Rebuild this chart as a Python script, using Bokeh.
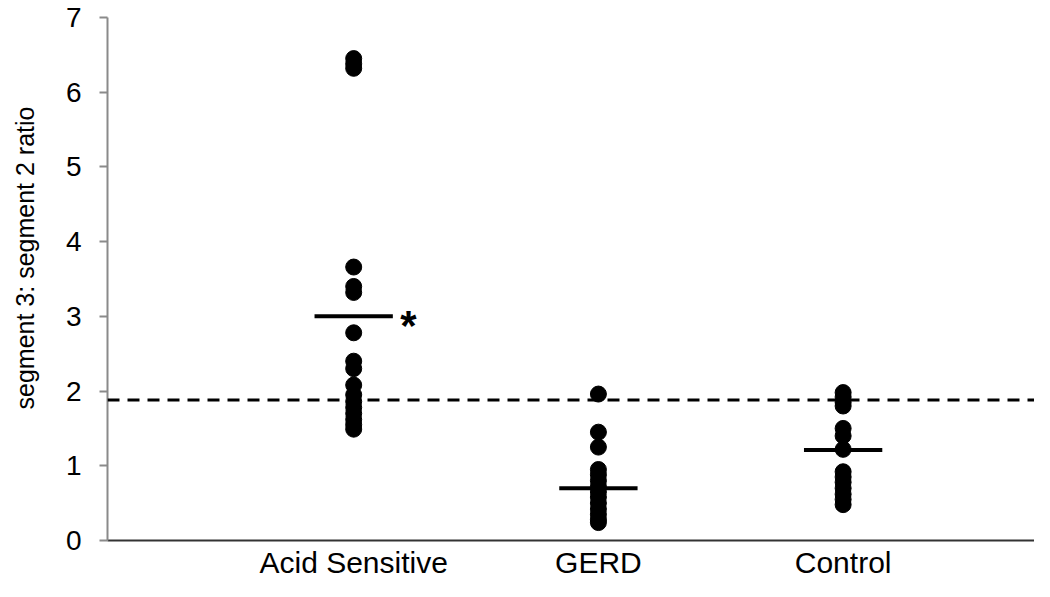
from bokeh.plotting import figure
from bokeh.models import ColumnDataSource, FixedTicker, Span, Title
from bokeh.core.properties import value
from bokeh.embed import file_html
from bokeh.resources import INLINE

# ---- data ----
categories = ["Acid Sensitive", "GERD", "Control"]
acid_sensitive = [6.45, 6.38, 6.32, 3.66, 3.40, 3.32, 2.78, 2.40, 2.30, 2.08,
                  1.95, 1.86, 1.78, 1.70, 1.62, 1.55, 1.49]
gerd = [1.96, 1.45, 1.25, 0.95, 0.88, 0.80, 0.72, 0.65, 0.58, 0.50, 0.42,
        0.35, 0.28, 0.24]
control = [1.98, 1.92, 1.85, 1.80, 1.50, 1.40, 1.22, 0.92, 0.85, 0.78, 0.70,
           0.62, 0.55, 0.48]
means = [3.00, 0.70, 1.21]
threshold = 1.88
y_ticks = [0, 1, 2, 3, 4, 5, 6, 7]
y_label = "segment 3: segment 2 ratio"

series = [acid_sensitive, gerd, control]
xs, ys = [], []
for i, vals in enumerate(series):
    xs += [i + 1] * len(vals)
    ys += vals
src = ColumnDataSource(dict(x=xs, y=ys))

FONT = "Liberation Sans"

p = figure(width=1034, height=581, output_backend="svg", toolbar_location=None,
           x_range=(-0.006, 3.782), y_range=(0, 7),
           min_border_left=104, min_border_right=0, min_border_top=17,
           min_border_bottom=40)
p.outline_line_color = None
p.xgrid.grid_line_color = None
p.ygrid.grid_line_color = None
p.background_fill_color = "white"

# axes
p.yaxis.ticker = FixedTicker(ticks=y_ticks)
p.yaxis.minor_tick_line_color = None
p.yaxis.major_tick_out = 8
p.yaxis.major_tick_in = 0
p.yaxis.axis_line_color = "#8a8a8a"
p.yaxis.axis_line_width = 2
p.yaxis.major_tick_line_color = "#8a8a8a"
p.yaxis.major_tick_line_width = 2
p.yaxis.major_label_text_font = FONT
p.yaxis.major_label_text_font_size = "28px"
p.yaxis.major_label_text_color = "black"
p.yaxis.major_label_standoff = 18
# blank spacer label to push the title outward
p.yaxis.axis_label = " "
p.yaxis.axis_label_text_font_size = "1px"
p.yaxis.axis_label_standoff = 12

p.xaxis.ticker = FixedTicker(ticks=[1, 2, 3])
p.xaxis.major_label_overrides = {i + 1: c for i, c in enumerate(categories)}
p.xaxis.minor_tick_line_color = None
p.xaxis.major_tick_line_color = None
p.xaxis.major_tick_out = 0
p.xaxis.major_tick_in = 0
p.xaxis.axis_line_color = "#333333"
p.xaxis.axis_line_width = 2
p.xaxis.major_label_text_font = FONT
p.xaxis.major_label_text_font_size = "30px"
p.xaxis.major_label_text_color = "black"
p.xaxis.major_label_standoff = 5

# y axis title (shifted upward like the reference)
p.add_layout(Title(text=y_label, align="left", offset=131, standoff=16,
                   text_font=FONT, text_font_size="25px",
                   text_font_style="normal", text_color="black"), "left")

# dashed threshold line
p.add_layout(Span(location=threshold, dimension="width", line_color="black",
                  line_width=3, line_dash="12 8"))

# points
p.scatter("x", "y", source=src, size=16, color="black", marker="circle")

# mean bars
half = 0.16
p.segment(x0=[i + 1 - half for i in range(3)], x1=[i + 1 + half for i in range(3)],
          y0=means, y1=means, line_color="black", line_width=4)

# asterisk next to Acid Sensitive mean
p.text(x=[1.19], y=[means[0]], text=["*"], text_font=value(FONT),
       text_font_size="42px", text_font_style="bold",
       text_baseline="alphabetic", text_align="left",
       text_color="black", y_offset=9)

open("out.html", "w").write(file_html(p, INLINE))
